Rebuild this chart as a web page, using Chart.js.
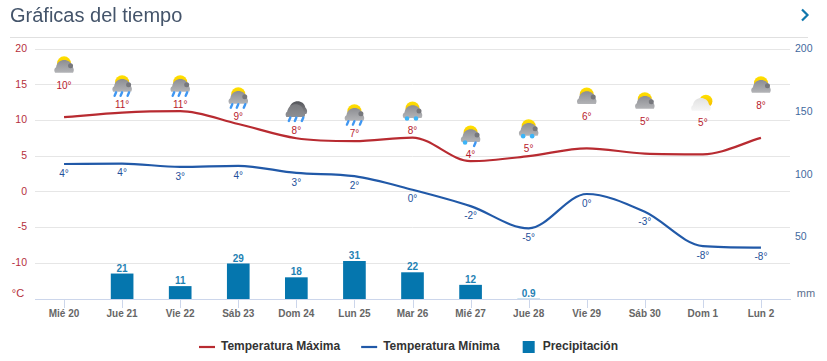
<!DOCTYPE html>
<html><head><meta charset="utf-8">
<style>
html,body{margin:0;padding:0;background:#fff;overflow:hidden}
#wrap{position:relative;width:827px;height:361px}
#title{position:absolute;z-index:2;left:10px;top:1px;font:20px/28px "Liberation Sans",Arial,sans-serif;color:#44546a}
#rule{position:absolute;z-index:2;left:10px;top:37px;width:798px;height:1px;background:#e0e0e0}
#next{position:absolute;z-index:2;left:800px;top:8px}
canvas{position:absolute;left:0;top:0;z-index:1}
</style></head><body>
<div id="wrap">
<div id="title">Gráficas del tiempo</div>
<div id="rule"></div>
<svg id="next" width="10" height="14" viewBox="0 0 10 14"><path d="M2 1.5 L7.5 7 L2 12.5" fill="none" stroke="#0f77ad" stroke-width="2.2"/></svg>
<canvas id="c" width="827" height="361"></canvas>
</div>
<script src="https://cdn.jsdelivr.net/npm/chart.js@4"></script>
<script>
const categories=["Mié 20","Jue 21","Vie 22","Sáb 23","Dom 24","Lun 25","Mar 26","Mié 27","Jue 28","Vie 29","Sáb 30","Dom 1","Lun 2"];
const tempMax=[10.45,11.1,11.3,9.5,7.5,7.1,7.6,4.3,5.0,6.1,5.35,5.25,7.55];
const tempMin=[3.9,3.95,3.5,3.65,2.65,2.2,0.3,-2,-5.1,-0.3,-2.8,-7.6,-7.8];
const precipitation=[null,21,11,29,18,31,22,12,0.9,null,null,null,null];
const maxLabels=[10,11,11,9,8,7,8,4,5,6,5,5,8];
const minLabels=[4,4,3,4,3,2,0,-2,-5,0,-3,-8,-8];
/* height, in degrees, of the label drawn under each weather icon */
const iconLevels=[14.77,12.12,12.12,10.45,8.45,8.08,8.45,5.1,5.98,10.4,9.75,9.61,11.98];
const icons=["cloudy","rain","rain","rain","storm","rain","snow","sleet","snow","cloudy","cloudy","fair","cloudy"];
const leftTicks=[20,15,10,5,0,-5,-10];
const rightTicks=[200,150,100,50];

function iconCloud(g,x,y,top,bot){
  const gr=g.createLinearGradient(0,y-8,0,y+6);gr.addColorStop(0,top);gr.addColorStop(1,bot);
  g.fillStyle=gr;g.beginPath();
  g.moveTo(x-9,y+5.5);g.quadraticCurveTo(x-11,y+2,x-8,y);
  g.bezierCurveTo(x-6.5,y-9.5,x+6.5,y-9.5,x+8,y-1);
  g.quadraticCurveTo(x+11,y+2,x+9,y+5.5);g.closePath();g.fill();
}
function iconSun(g,x,y,r){
  const gr=g.createLinearGradient(0,y-r,0,y+r);gr.addColorStop(0,"#ffe100");gr.addColorStop(1,"#f5b800");
  g.fillStyle=gr;g.beginPath();g.arc(x,y,r,0,Math.PI*2);g.fill();
}
function drops(g,x,y){
  g.strokeStyle="#3f97f2";g.lineWidth=2.4;g.lineCap="round";
  [-7,-1,6].forEach(d=>{g.beginPath();g.moveTo(x+d+1,y+6);g.lineTo(x+d-.5,y+9.5);g.stroke();});
}
function flakes(g,x,y,xs){
  g.fillStyle="#3cb4f7";
  xs.forEach(d=>{g.beginPath();g.arc(x+d,y+6,2.3,0,Math.PI*2);g.fill();});
}
function drawIcon(g,kind,x,y){
  g.save();
  if(kind==="storm"){
    iconCloud(g,x+1,y-4,"#4f5055","#8c8c90");iconCloud(g,x-1,y-1,"#77787c","#8f9094");drops(g,x,y-1);
  }else if(kind==="fair"){
    iconSun(g,x+3,y-3,6.5);iconCloud(g,x-2,y+1,"#e0e0e0","#f6f6f6");
  }else{
    iconSun(g,x,y-4,7);iconCloud(g,x,y,"#8a8b90","#b4b5b8");
    g.fillStyle="#77787d";g.beginPath();g.arc(x+6.5,y-1.5,2.5,0,Math.PI*2);g.fill();
    if(kind==="rain")drops(g,x,y);
    if(kind==="snow")flakes(g,x,y,[-5.5,3.5]);
    if(kind==="sleet"){flakes(g,x,y,[-5.5]);g.strokeStyle="#3f97f2";g.lineWidth=2.4;g.lineCap="round";g.beginPath();g.moveTo(x+5,y+6);g.lineTo(x+3.5,y+9.5);g.stroke();}
  }
  g.restore();
}
const marks={id:"marks",
 beforeLayout(ch){
  const lg=ch.legend;
  if(lg&&!lg._fitPatched){const fit=lg.fit;lg.fit=function(){fit.call(this);this.height=32;};lg._fitPatched=true;}
 },
 afterLayout(ch){ch.legend.left-=5;ch.legend.right-=5;ch.legend.top-=9;},
 beforeDraw(ch){const g=ch.ctx;g.save();g.fillStyle="#fff";g.fillRect(0,0,ch.width,ch.height);g.restore();},
 afterDatasetsDraw(ch){
  const g=ch.ctx,xS=ch.scales.x,yS=ch.scales.y,mS=ch.scales.y1;
  g.save();g.textAlign="center";g.textBaseline="middle";
  g.strokeStyle="#ccd6eb";g.lineWidth=1;
  categories.forEach((c,i)=>{const x=Math.round(xS.getPixelForValue(i))+.5;g.beginPath();g.moveTo(x,yS.bottom);g.lineTo(x,yS.bottom+9);g.stroke();});
  g.font='11px "Liberation Sans",Arial,sans-serif';
  g.fillStyle="#b5303c";g.fillText("°C",18,294);
  g.fillStyle="#5b6f8f";g.fillText("mm",806,294);
  g.font='10px "Liberation Sans",Arial,sans-serif';
  categories.forEach((c,i)=>{
    const x=xS.getPixelForValue(i),y=yS.getPixelForValue(iconLevels[i]);
    drawIcon(g,icons[i],x,y-19);
    g.fillStyle="#b8202c";
    g.fillText(maxLabels[i]+"°",x,y);
    const my=yS.getPixelForValue(tempMin[i]);
    g.fillStyle="#24509a";
    g.fillText(minLabels[i]+"°",x,my+10);
  });
  g.font='bold 10px "Liberation Sans",Arial,sans-serif';g.fillStyle="#1f82b4";
  precipitation.forEach((v,i)=>{if(v==null)return;g.fillText(String(v),xS.getPixelForValue(i),mS.getPixelForValue(v)-5);});
  g.restore();
}};
const swatch=document.createElement("canvas");swatch.width=16;swatch.height=12;
{const s=swatch.getContext("2d");s.fillStyle="#0576ae";s.fillRect(2,0,12,12);}
const canvas=document.getElementById("c");
canvas.getContext("2d",{alpha:false});
Chart.defaults.font.family='"Liberation Sans",Arial,sans-serif';
new Chart(canvas,{
  data:{labels:categories,datasets:[
    {type:"line",label:"Temperatura Máxima",data:tempMax,yAxisID:"y",borderColor:"#b82b31",backgroundColor:"#b82b31",borderWidth:2.2,pointRadius:0,cubicInterpolationMode:"monotone",order:1,pointStyle:"line"},
    {type:"line",label:"Temperatura Mínima",data:tempMin,yAxisID:"y",borderColor:"#2159a8",backgroundColor:"#2159a8",borderWidth:2.2,pointRadius:0,cubicInterpolationMode:"monotone",order:2,pointStyle:"line"},
    {type:"bar",label:"Precipitación",data:precipitation,yAxisID:"y1",backgroundColor:"#0576ae",borderWidth:0,barThickness:22,order:3,pointStyle:swatch}
  ]},
  options:{responsive:false,animation:false,
    layout:{padding:{left:0,right:0,top:49,bottom:0}},
    plugins:{tooltip:{enabled:false},
      legend:{display:true,position:"bottom",labels:{usePointStyle:true,pointStyleWidth:16,boxHeight:11,padding:21,color:"#333",font:{size:12,weight:"bold"}}}},
    scales:{
      x:{offset:true,grid:{display:false,drawTicks:false},border:{color:"#ccd6eb"},ticks:{color:"#666",font:{size:10,weight:"bold"},padding:9,maxRotation:0,autoSkip:false}},
      y:{position:"left",min:-15,max:20,afterBuildTicks(a){a.ticks=[...leftTicks,-15].map(v=>({value:v}));},afterFit(a){a.width=35;},
         grid:{color:"#e6e6e6",drawTicks:false},border:{display:false},
         ticks:{color:"#b5303c",font:{size:10.5},padding:8,callback:v=>v===-15?"":v}},
      y1:{position:"right",min:1,max:200,afterBuildTicks(a){a.ticks=rightTicks.map(v=>({value:v}));},afterFit(a){a.width=37;},
         grid:{display:false,drawTicks:false},border:{display:false},
         ticks:{color:"#3f6a9e",font:{size:10.5},padding:5}}
    }
  },
  plugins:[marks]
});
</script></body></html>
